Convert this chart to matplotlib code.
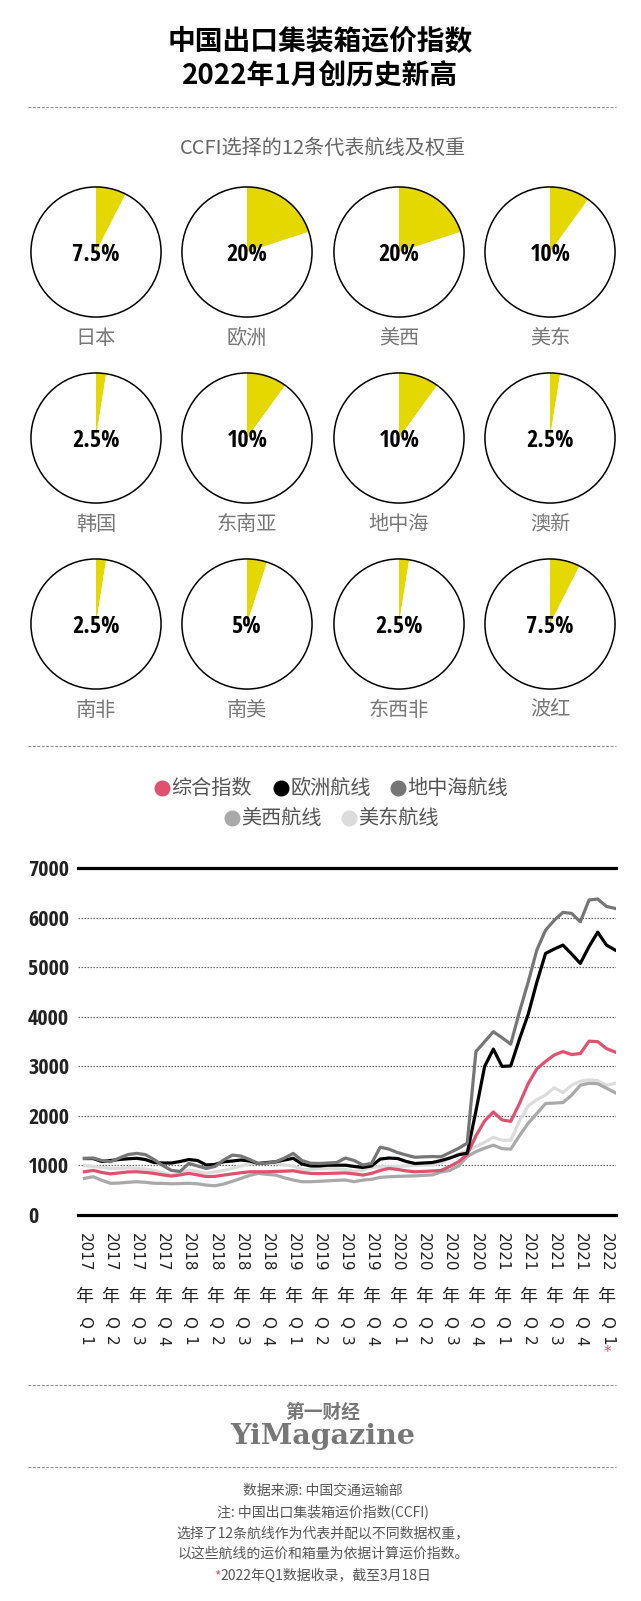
"""
CCFI chart: route weights (pies) + freight index lines 2017Q1 - 2022Q1
"""
import matplotlib
matplotlib.use('Agg')
import matplotlib.pyplot as plt
from matplotlib.lines import Line2D
from matplotlib.patches import Circle
from matplotlib import font_manager

plt.rcParams['font.family'] = ['Noto Sans CJK SC', 'DejaVu Sans']

# ==== data ==== #
ROUTES = ['日本', '欧洲', '美西', '美东', '韩国', '东南亚', '地中海', '澳新', '南非', '南美', '东西非', '波红']
WEIGHTS = [7.5, 20, 20, 10, 2.5, 10, 10, 2.5, 2.5, 5, 2.5, 7.5]

COMPOSITE = [873, 900, 860, 830, 850, 870, 873, 860, 840, 810,
             786, 810, 840, 810, 775, 780, 806, 830, 853, 873,
             873, 873, 880, 885, 893, 860, 840, 835, 840, 845,
             850, 830, 806, 840, 900, 940, 920, 890, 873, 880,
             890, 900, 980, 1075, 1220, 1600, 1900, 2080, 1920, 1890,
             2250, 2650, 2950, 3100, 3230, 3300, 3240, 3260, 3510, 3500, 3360, 3290]
EUROPE = [1140, 1140, 1080, 1100, 1120, 1135, 1145, 1120, 1060, 1050,
          1050, 1080, 1120, 1100, 1010, 1020, 1075, 1090, 1110, 1090,
          1040, 1060, 1075, 1110, 1145, 1030, 990, 990, 1005, 1005,
          1005, 980, 960, 990, 1130, 1150, 1140, 1080, 1040, 1050,
          1060, 1100, 1150, 1215, 1250, 2100, 3000, 3350, 3000, 3010,
          3550, 4050, 4700, 5280, 5370, 5450, 5270, 5080, 5420, 5710, 5450, 5350]
MEDITERRANEAN = [1143, 1150, 1100, 1075, 1150, 1220, 1244, 1220, 1120, 1000,
                 900, 880, 1040, 990, 940, 980, 1110, 1210, 1190, 1120,
                 1040, 1050, 1075, 1150, 1244, 1100, 1045, 1040, 1050, 1060,
                 1150, 1100, 1010, 1040, 1370, 1330, 1260, 1210, 1165, 1175,
                 1180, 1176, 1260, 1345, 1450, 3300, 3500, 3700, 3580, 3450,
                 4100, 4700, 5350, 5750, 5950, 6110, 6090, 5920, 6360, 6380, 6230, 6190]
US_WEST = [739, 773, 700, 640, 645, 660, 672, 660, 640, 638,
           630, 635, 640, 630, 605, 590, 625, 680, 739, 800,
           840, 820, 806, 750, 706, 672, 672, 680, 690, 700,
           706, 672, 705, 720, 760, 772, 780, 785, 790, 800,
           810, 870, 900, 990, 1180, 1280, 1350, 1410, 1340, 1330,
           1600, 1850, 2050, 2250, 2260, 2270, 2420, 2620, 2660, 2650, 2560, 2470]
US_EAST = [995, 980, 960, 941, 941, 950, 941, 930, 900, 850,
           806, 850, 907, 880, 840, 870, 900, 941, 990, 1030,
           1042, 1042, 1040, 1010, 990, 920, 920, 930, 935, 930,
           920, 880, 900, 960, 975, 975, 980, 990, 1000, 1010,
           1010, 1050, 1150, 1230, 1300, 1380, 1470, 1570, 1510, 1510,
           1900, 2200, 2330, 2420, 2570, 2470, 2620, 2700, 2730, 2710, 2620, 2660]

SERIES_NAMES = ['综合指数', '欧洲航线', '地中海航线', '美西航线', '美东航线']
YEARS = ['2017', '2018', '2019', '2020', '2021', '2022']
QUARTERS = ['1', '2', '3', '4']

# ==== style ==== #
W, H = 641, 1601
YELLOW = '#e4d800'
PINK = '#e0516f'
DARK = '#767676'
MID = '#a9a9a9'
LIGHT = '#dcdcdc'

# pick a narrow face for the numbers if one is installed
_installed = {f.name for f in font_manager.fontManager.ttflist}
_narrowNames = [n for n in ['Open Sans Condensed', 'Roboto Condensed', 'Liberation Sans Narrow',
                            'DejaVu Sans Condensed'] if n in _installed]
NARROW = _narrowNames[:1] + ['DejaVu Sans']
HAS_NARROW = bool(_narrowNames)


def fx(px):
    return px / W


def fy(py):
    return 1 - py / H


def dashedRule(fig, y):
    fig.add_artist(Line2D([fx(28), fx(616)], [fy(y), fy(y)], color='#8a8a8a',
                          lw=0.8, ls=(0, (2.5, 1.5)), transform=fig.transFigure))


def drawPies(fig):
    xs = [96, 247, 399, 550]
    ys = [252, 438, 624]
    r = 65
    for k, (name, w) in enumerate(zip(ROUTES, WEIGHTS)):
        cx, cy = xs[k % 4], ys[k // 4]
        ax = fig.add_axes([fx(cx - r - 2), fy(cy + r + 2), (2 * r + 4) / W, (2 * r + 4) / H])
        ax.pie([w, 100 - w], colors=[YELLOW, 'white'], startangle=90,
               counterclock=False, radius=1, wedgeprops=dict(linewidth=0))
        ax.add_patch(Circle((0, 0), 1, fill=False, ec='black', lw=1.1))
        ax.set_xlim(-1.03, 1.03)
        ax.set_ylim(-1.03, 1.03)
        ax.set_aspect('equal')
        ax.axis('off')
        ax.text(0, -0.05, f'{w:g}%', ha='center', va='center',
                fontsize=17.5 if HAS_NARROW else 13.5,
                fontweight='bold', family=NARROW, fontstretch='condensed', color='black')
        fig.text(fx(cx), fy(cy + 86), name, ha='center', va='center',
                 fontsize=14.5, color='#777777', fontweight='light')


def drawLegend(fig):
    colors = [PINK, 'black', DARK, MID, LIGHT]
    spots = [(171, 788), (290, 788), (407, 788), (241, 818), (358, 818)]
    for name, c, (x, y) in zip(SERIES_NAMES, colors, spots):
        fig.add_artist(Line2D([fx(x - 9)], [fy(y)], marker='o', ms=10.5, color=c,
                              mec=c, ls='none', transform=fig.transFigure))
        fig.text(fx(x), fy(y), name, ha='left', va='center', fontsize=14.5,
                 color='#555555', fontweight='light')


def drawLines(fig):
    ax = fig.add_axes([fx(78), fy(1215), (616 - 78) / W, (1215 - 868.3) / H])
    idx = list(range(len(COMPOSITE)))
    lw = 2.3
    ax.plot(idx, US_EAST, color=LIGHT, lw=lw, solid_joinstyle='round', zorder=3)
    ax.plot(idx, US_WEST, color=MID, lw=lw, solid_joinstyle='round', zorder=4)
    ax.plot(idx, COMPOSITE, color=PINK, lw=lw, solid_joinstyle='round', zorder=5)
    ax.plot(idx, EUROPE, color='black', lw=lw, solid_joinstyle='round', zorder=6)
    ax.plot(idx, MEDITERRANEAN, color=DARK, lw=lw, solid_joinstyle='round', zorder=7)

    ax.set_xlim(-0.74, 61.1)
    ax.set_ylim(0, 7000)
    for s in ax.spines.values():
        s.set_visible(False)
    for v in range(1000, 7000, 1000):
        ax.axhline(v, color='#666666', lw=0.9, ls=(0, (1.2, 1.2)), zorder=1)
    ax.axhline(7000, color='black', lw=2.3, clip_on=False, zorder=2)
    ax.axhline(0, color='black', lw=2.3, clip_on=False, zorder=2)

    ax.set_yticks(range(0, 7001, 1000))
    ax.set_yticklabels([str(v) for v in range(0, 7001, 1000)], family=NARROW,
                       fontstretch='condensed', fontweight='light',
                       fontsize=16 if HAS_NARROW else 11.5, color='#222222')
    ax.tick_params(axis='y', length=0, pad=36)
    for t in ax.get_yticklabels():
        t.set_ha('left')

    ticks = list(range(0, 61, 3))
    ax.set_xticks(ticks)
    ax.set_xticklabels([])
    ax.tick_params(axis='x', length=0)
    for n, i in enumerate(ticks):
        year = YEARS[n // 4]
        q = QUARTERS[n % 4]
        common = dict(xy=(i, 0), xycoords=('data', 'axes fraction'),
                      textcoords='offset points', ha='center', color='#222222',
                      annotation_clip=False)
        ax.annotate(year, xytext=(0, -13), va='top', rotation=270,
                    fontsize=11, family='DejaVu Sans', **common)
        ax.annotate('年', xytext=(0, -59), va='center', fontsize=13, **common)
        ax.annotate('Q', xytext=(0, -77), va='center', rotation=270,
                    fontsize=11, family='DejaVu Sans', **common)
        ax.annotate(q, xytext=(0, -90.7), va='center', rotation=270,
                    fontsize=11, family='DejaVu Sans', **common)
    ax.annotate('*', xy=(ticks[-1], 0), xycoords=('data', 'axes fraction'),
                xytext=(1, -99), textcoords='offset points', ha='center',
                va='center', fontsize=11, color=PINK, family='DejaVu Sans',
                annotation_clip=False)
    return ax


def main():
    fig = plt.figure(figsize=(W / 100, H / 100), dpi=100)

    fig.text(0.5, fy(42), '中国出口集装箱运价指数', ha='center', va='center',
             fontsize=20, fontweight='bold', color='black')
    fig.text(0.5, fy(75), '2022年1月创历史新高', ha='center', va='center',
             fontsize=20, fontweight='bold', color='black')
    dashedRule(fig, 107)
    fig.text(fx(323), fy(148), 'CCFI选择的12条代表航线及权重', ha='center',
             va='center', fontsize=14.5, color='#666666', fontweight='light')

    drawPies(fig)
    dashedRule(fig, 746)
    drawLegend(fig)
    ax = drawLines(fig)

    dashedRule(fig, 1385)
    fig.text(fx(323), fy(1412), '第一财经', ha='center', va='center',
             fontsize=13.5, fontweight='bold', color='#777777')
    fig.text(fx(323), fy(1436), 'YiMagazine', ha='center', va='center',
             fontsize=20.5, fontweight='bold', family='DejaVu Serif', color='#777777')
    dashedRule(fig, 1467)

    notes = ['数据来源: 中国交通运输部',
             '注: 中国出口集装箱运价指数(CCFI)',
             '选择了12条航线作为代表并配以不同数据权重，',
             '以这些航线的运价和箱量为依据计算运价指数。']
    for k, line in enumerate(notes):
        fig.text(fx(323), fy(1491 + 21 * k), line, ha='center', va='center',
                 fontsize=10, color='#555555', fontweight='light')
    last = fig.text(fx(326), fy(1576), '2022年Q1数据收录，截至3月18日', ha='center',
                    va='center', fontsize=10, color='#555555', fontweight='light')
    ax.annotate('*', xy=(0, 0.5), xycoords=last, ha='right', va='center',
                fontsize=10, color=PINK, annotation_clip=False)

    fig.savefig('out.png', dpi=100)


if __name__ == '__main__':
    main()
